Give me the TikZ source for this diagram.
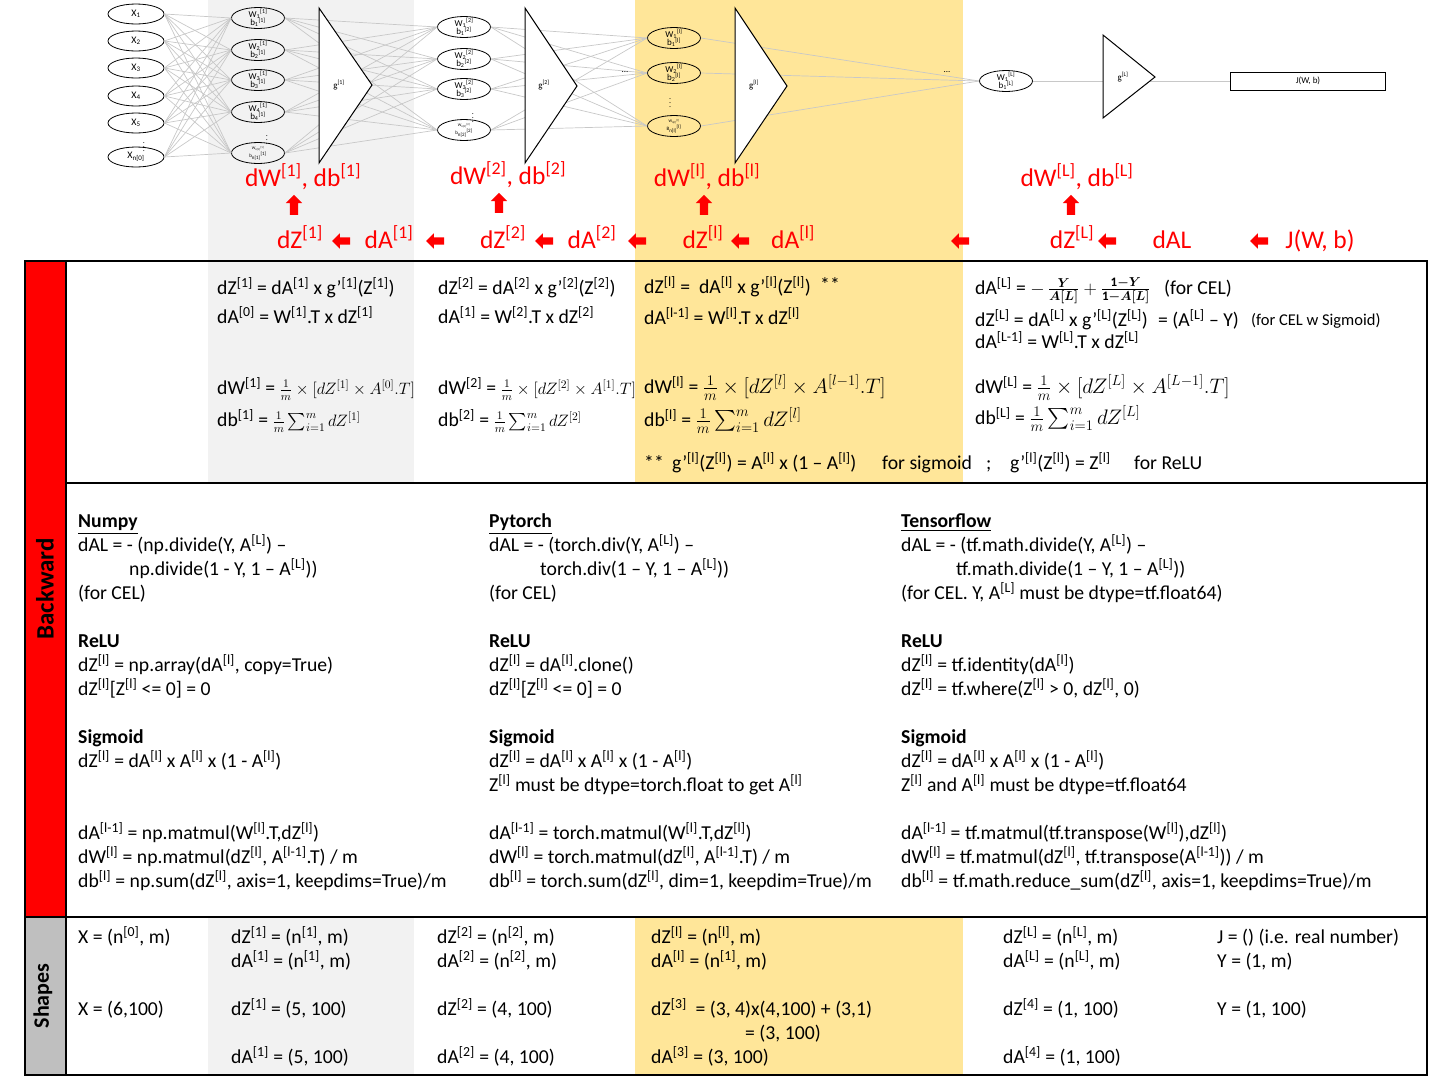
\RequirePackage{fix-cm}
\documentclass[tikz,border=0pt]{standalone}
\usepackage{amsmath}
\usepackage{fontspec}
\setmainfont{Carlito}
\usetikzlibrary{shapes.geometric,shapes.arrows}
\definecolor{bandgray}{HTML}{F2F2F2}
\definecolor{bandyel}{HTML}{FFE699}
\definecolor{shapegray}{HTML}{BFBFBF}
\definecolor{conngray}{HTML}{C8C8C8}
\newcommand\sq[1]{\textsuperscript{[#1]}}
\newcommand\wb[3]{W\textsubscript{#1}\textsuperscript{[#2]}\\[-1pt]#3\textsubscript{#1}\textsuperscript{[#2]}}
\newcommand\mthS{\fontsize{16.5}{18}\selectfont}
\newcommand\mthL{\fontsize{21}{24}\selectfont}
\newcommand\mthF{\fontsize{18.5}{22}\selectfont}
\begin{document}
\begin{tikzpicture}[x=1pt,y=-1pt,
  tx/.style={anchor=west, inner sep=0, text height=12.6pt, text depth=0pt, font=\fontsize{19.7}{24}\selectfont},
  txs/.style={tx, text height=10.6pt, font=\fontsize{16.5}{20}\selectfont},
  hd/.style={tx, font=\bfseries\fontsize{19.7}{24}\selectfont},
  redlbl/.style={inner sep=0, text=red, text height=16.4pt, text depth=0pt, font=\fontsize{25.5}{30}\selectfont},
  inell/.style={ellipse, draw, line width=0.8pt, minimum width=56pt, minimum height=20pt, inner sep=0},
  hidell/.style={ellipse, draw, line width=0.8pt, minimum width=53pt, minimum height=21pt, inner sep=0},
  inlbl/.style={inner sep=0, font=\fontsize{10}{11}\selectfont},
  hidlbl/.style={inner sep=0, align=center, font=\fontsize{9}{9.5}\selectfont},
  tinylbl/.style={inner sep=0, align=center, font=\fontsize{5}{6}\selectfont},
  dotlbl/.style={inner sep=0, font=\fontsize{8}{9}\selectfont},
  conn/.style={draw=conngray, line width=0.7pt},
  tri/.style={fill=white, draw=black, line width=1pt},
  glbl/.style={inner sep=0, font=\fontsize{9}{10}\selectfont},
  larr/.style={single arrow, fill=red, draw=none, inner xsep=0pt, inner ysep=3.5pt, minimum height=18pt, single arrow head extend=4pt, rotate=180},
  uarr/.style={single arrow, fill=red, draw=none, inner xsep=0pt, inner ysep=4pt, minimum height=20pt, single arrow head extend=4pt, rotate=90}
]
\useasboundingbox (0,0) rectangle (1431,1077);
% bands
\fill[bandgray] (208,0) rectangle (414,483);
\fill[bandyel] (635,0) rectangle (963,483);
\fill[bandgray] (208,917) rectangle (414,1075);
\fill[bandyel] (635,917) rectangle (963,1075);
\fill[red] (25,261) rectangle (66,917);
\fill[shapegray] (25,917) rectangle (66,1075);
\draw[line width=1.2pt] (25,261) rectangle (1427,1075);
\draw[line width=1.2pt] (66,261) -- (66,1075);
\draw[line width=1.2pt] (66,483) -- (1427,483);
\draw[line width=1.2pt] (25,917) -- (1427,917);
\node[rotate=90, inner sep=0, font=\bfseries\fontsize{25}{30}\selectfont] (bw) at (45,589) {Backward};
\node[rotate=90, inner sep=0, font=\bfseries\fontsize{22}{26}\selectfont] (sh) at (43,996) {Shapes};

% ---------- network ----------
\foreach \i/\y in {1/14,2/41,3/68,4/96,5/123,6/157}
  \node[inell] (x\i) at (136,\y) {};
\foreach \i/\y in {1/18,2/50,3/80,4/112,5/153}
  \node[hidell] (a\i) at (258,\y) {};
\foreach \i/\y in {1/27,2/59,3/89,4/130}
  \node[hidell] (b\i) at (464,\y) {};
\foreach \i/\y in {1/38,2/73,3/126}
  \node[hidell] (c\i) at (674,\y) {};
\node[hidell] (dL) at (1006,81) {};
\node[draw, line width=1pt, minimum width=155pt, minimum height=18pt, inner sep=0, font=\fontsize{9}{10}\selectfont] (J) at (1308,81) {J(W, b)};

\foreach \i in {1,...,6} \foreach \j in {1,...,5} \draw[conn] (x\i.east) -- (a\j.west);
\foreach \i in {1,...,5} \foreach \j in {1,...,4} \draw[conn] (a\i.east) -- (b\j.west);
\foreach \i in {1,...,4} \foreach \j in {1,...,3} \draw[conn] (b\i.east) -- (c\j.west);
\foreach \i in {1,...,3} \draw[conn] (c\i.east) -- (dL.west);
\draw[conn] (dL.east) -- (J.west);

\draw[tri] (319,8) -- (319,163) -- (372,85) -- cycle;
\draw[tri] (525,8) -- (525,163) -- (577,86) -- cycle;
\draw[tri] (735,8) -- (735,163) -- (787,86) -- cycle;
\draw[tri] (1103,35) -- (1103,118) -- (1155,77) -- cycle;
\node[glbl] (g1) at (339,85) {g\sq{1}};
\node[glbl] (g2) at (544,85) {g\sq{2}};
\node[glbl] (gl) at (754,85) {g\sq{l}};
\node[glbl] (gL) at (1123,77) {g\sq{L}};

\foreach \i in {1,...,5} \node[inlbl] (xl\i) at (x\i) {X\textsubscript{\i}};
\node[inlbl] (xl6) at (x6) {X\textsubscript{n[0]}};
\node[dotlbl] (xd) at (144,144) {$\vdots$};
\foreach \i in {1,...,4} \node[hidlbl] (al\i) at (a\i) {\wb{\i}{1}{b}};
\node[tinylbl] (al5) at (a5) {{\fontsize{4}{4}\selectfont W\textsubscript{n[1]}\textsuperscript{[1]}}\\b\textsubscript{n[1]}\textsuperscript{[1]}};
\node[dotlbl] (ad) at (267,137) {$\vdots$};
\foreach \i in {1,...,3} \node[hidlbl] (bl\i) at (b\i) {\wb{\i}{2}{b}};
\node[tinylbl] (bl4) at (b4) {{\fontsize{4}{4}\selectfont W\textsubscript{n[2]}\textsuperscript{[2]}}\\b\textsubscript{n[2]}\textsuperscript{[2]}};
\node[dotlbl] (bd) at (473,115) {$\vdots$};
\foreach \i in {1,2} \node[hidlbl] (cl\i) at (c\i) {\wb{\i}{l}{b}};
\node[tinylbl] (cl3) at (c3) {{\fontsize{4}{4}\selectfont W\textsubscript{n[l]}\textsuperscript{[l]}}\\B\textsubscript{n[l]}\textsuperscript{[l]}};
\node[dotlbl] (cd) at (670,100) {$\vdots$};
\node[hidlbl] (dLl) at (dL) {\wb{1}{L}{b}};
\node[glbl] (e1) at (625,72) {...};
\node[glbl] (e2) at (947,72) {...};

% ---------- red gradient flow ----------
\node[redlbl] (dw1) at (303,178) {dW\sq1, db\sq1};
\node[redlbl] (dw2) at (508,176) {dW\sq2, db\sq2};
\node[redlbl] (dwl) at (707,178) {dW\sq{l}, db\sq{l}};
\node[redlbl] (dwL) at (1077,178) {dW\sq{L}, db\sq{L}};
\node[uarr] (ua1) at (294,207) {};
\node[uarr] (ua2) at (499,205) {};
\node[uarr] (ua3) at (704,207) {};
\node[uarr] (ua4) at (1071,207) {};
\node[redlbl] (dz1) at (300,240) {dZ\sq1};
\node[redlbl] (da1) at (389,240) {dA\sq1};
\node[redlbl] (dz2) at (503,240) {dZ\sq2};
\node[redlbl] (da2) at (592,240) {dA\sq2};
\node[redlbl] (dzl) at (703,240) {dZ\sq{l}};
\node[redlbl] (dal) at (793,240) {dA\sq{l}};
\node[redlbl] (dzL) at (1072,240) {dZ\sq{L}};
\node[redlbl] (daL) at (1172,240) {dAL};
\node[redlbl] (jwb) at (1320,240) {J(W, b)};
\foreach \n/\x in {1/343,2/437,3/546,4/639,5/742,6/962,7/1109,8/1261}
  \node[larr] (la\n) at (\x,241) {};

% ---------- formulas ----------
\node[tx] (p11) at (217,288) {dZ\sq1 = dA\sq1 x g’\sq1(Z\sq1)};
\node[tx] (p12) at (217,317) {dA\sq0 = W\sq1.T x dZ\sq1};
\node[tx] (p13) at (217,388) {dW\sq1 = {\mthS$\frac{1}{m}\times[dZ^{[1]}\times A^{[0]}.T]$}};
\node[tx] (p14) at (217,420) {db\sq1 = {\mthS$\frac{1}{m}\sum_{i=1}^{m}dZ^{[1]}$}};
\node[tx] (p21) at (438,288) {dZ\sq2 = dA\sq2 x g’\sq2(Z\sq2)};
\node[tx] (p22) at (438,317) {dA\sq1 = W\sq2.T x dZ\sq2};
\node[tx] (p23) at (438,388) {dW\sq2 = {\mthS$\frac{1}{m}\times[dZ^{[2]}\times A^{[1]}.T]$}};
\node[tx] (p24) at (438,420) {db\sq2 = {\mthS$\frac{1}{m}\sum_{i=1}^{m}dZ^{[2]}$}};
\node[tx] (p31) at (644,287) {dZ\sq{l} =\ \ dA\sq{l} x g’\sq{l}(Z\sq{l})};
\node[tx] (p31s) at (820,285) {**};
\node[tx] (p32) at (644,318) {dA\sq{l-1} = W\sq{l}.T x dZ\sq{l}};
\node[tx] (p33) at (644,387) {dW\sq{l} = {\mthL$\frac{1}{m}\times[dZ^{[l]}\times A^{[l-1]}.T]$}};
\node[tx] (p34) at (644,420) {db\sq{l} = {\mthL$\frac{1}{m}\sum_{i=1}^{m}dZ^{[l]}$}};
\node[tx] (p35) at (644,463) {**};
\node[tx] (p36) at (672,463) {g’\sq{l}(Z\sq{l}) = A\sq{l} x (1 – A\sq{l})};
\node[tx] (p37) at (882,463) {for sigmoid};
\node[tx] (p38) at (986,463) {;};
\node[tx] (p39) at (1010,463) {g’\sq{l}(Z\sq{l}) = Z\sq{l}};
\node[tx] (p3a) at (1134,463) {for ReLU};
\node[tx] (p41) at (975,288) {dA\sq{L} = {\mthF$-\,\frac{\boldsymbol{Y}}{\boldsymbol{A[L]}}+\frac{\mathbf{1}\boldsymbol{-}\boldsymbol{Y}}{\mathbf{1}\boldsymbol{-}\boldsymbol{A[L]}}$}};
\node[tx] (p41c) at (1164,288) {(for CEL)};
\node[tx] (p42) at (975,320) {dZ\sq{L} = dA\sq{L} x g’\sq{L}(Z\sq{L})};
\node[tx] (p42b) at (1158,320) {= (A\sq{L} – Y)};
\node[txs] (p42c) at (1251,320) {(for CEL w Sigmoid)};
\node[tx] (p43) at (975,342) {dA\sq{L-1} = W\sq{L}.T x dZ\sq{L}};
\node[tx] (p44) at (975,387) {dW\sq{L} = {\mthL$\frac{1}{m}\times[dZ^{[L]}\times A^{[L-1]}.T]$}};
\node[tx] (p45) at (975,418) {db\sq{L} = {\mthL$\frac{1}{m}\sum_{i=1}^{m}dZ^{[L]}$}};

% ---------- code ----------
\node[hd] (n0) at (78,521) {\underline{Numpy}};
\node[tx] (n1) at (78,545) {dAL = - (np.divide(Y, A\sq{L}) –};
\node[tx] (n2) at (129,569) {np.divide(1 - Y, 1 – A\sq{L}))};
\node[tx] (n3) at (78,593) {(for CEL)};
\node[hd] (n4) at (78,641) {ReLU};
\node[tx] (n5) at (78,665) {dZ\sq{l} = np.array(dA\sq{l}, copy=True)};
\node[tx] (n6) at (78,689) {dZ\sq{l}[Z\sq{l} <= 0] = 0};
\node[hd] (n7) at (78,737) {Sigmoid};
\node[tx] (n8) at (78,761) {dZ\sq{l} = dA\sq{l} x A\sq{l} x (1 - A\sq{l})};
\node[tx] (n9) at (78,833) {dA\sq{l-1} = np.matmul(W\sq{l}.T,dZ\sq{l})};
\node[tx] (n10) at (78,857) {dW\sq{l} = np.matmul(dZ\sq{l}, A\sq{l-1}.T) / m};
\node[tx] (n11) at (78,881) {db\sq{l} = np.sum(dZ\sq{l}, axis=1, keepdims=True)/m};

\node[hd] (t0) at (489,521) {\underline{Pytorch}};
\node[tx] (t1) at (489,545) {dAL = - (torch.div(Y, A\sq{L}) –};
\node[tx] (t2) at (540,569) {torch.div(1 – Y, 1 – A\sq{L}))};
\node[tx] (t3) at (489,593) {(for CEL)};
\node[hd] (t4) at (489,641) {ReLU};
\node[tx] (t5) at (489,665) {dZ\sq{l} = dA\sq{l}.clone()};
\node[tx] (t6) at (489,689) {dZ\sq{l}[Z\sq{l} <= 0] = 0};
\node[hd] (t7) at (489,737) {Sigmoid};
\node[tx] (t8) at (489,761) {dZ\sq{l} = dA\sq{l} x A\sq{l} x (1 - A\sq{l})};
\node[tx] (t8b) at (489,785) {Z\sq{l} must be dtype=torch.float to get A\sq{l}};
\node[tx] (t9) at (489,833) {dA\sq{l-1} = torch.matmul(W\sq{l}.T,dZ\sq{l})};
\node[tx] (t10) at (489,857) {dW\sq{l} = torch.matmul(dZ\sq{l}, A\sq{l-1}.T) / m};
\node[tx] (t11) at (489,881) {db\sq{l} = torch.sum(dZ\sq{l}, dim=1, keepdim=True)/m};

\node[hd] (f0) at (901,521) {\underline{Tensorflow}};
\node[tx] (f1) at (901,545) {dAL = - (tf.math.divide(Y, A\sq{L}) –};
\node[tx] (f2) at (956,569) {tf.math.divide(1 – Y, 1 – A\sq{L}))};
\node[tx] (f3) at (901,593) {(for CEL. Y, A\sq{L} must be dtype=tf.float64)};
\node[hd] (f4) at (901,641) {ReLU};
\node[tx] (f5) at (901,665) {dZ\sq{l} = tf.identity(dA\sq{l})};
\node[tx] (f6) at (901,689) {dZ\sq{l} = tf.where(Z\sq{l} > 0, dZ\sq{l}, 0)};
\node[hd] (f7) at (901,737) {Sigmoid};
\node[tx] (f8) at (901,761) {dZ\sq{l} = dA\sq{l} x A\sq{l} x (1 - A\sq{l})};
\node[tx] (f8b) at (901,785) {Z\sq{l} and A\sq{l} must be dtype=tf.float64};
\node[tx] (f9) at (901,833) {dA\sq{l-1} = tf.matmul(tf.transpose(W\sq{l}),dZ\sq{l})};
\node[tx] (f10) at (901,857) {dW\sq{l} = tf.matmul(dZ\sq{l}, tf.transpose(A\sq{l-1})) / m};
\node[tx] (f11) at (901,881) {db\sq{l} = tf.math.reduce\_sum(dZ\sq{l}, axis=1, keepdims=True)/m};

% ---------- shapes ----------
\node[tx] (s01) at (78,937) {X = (n\sq0, m)};
\node[tx] (s02) at (78,1009) {X = (6,100)};
\node[tx] (s11) at (231,937) {dZ\sq1 = (n\sq1, m)};
\node[tx] (s12) at (231,961) {dA\sq1 = (n\sq1, m)};
\node[tx] (s13) at (231,1009) {dZ\sq1 = (5, 100)};
\node[tx] (s14) at (231,1057) {dA\sq1 = (5, 100)};
\node[tx] (s21) at (437,937) {dZ\sq2 = (n\sq2, m)};
\node[tx] (s22) at (437,961) {dA\sq2 = (n\sq2, m)};
\node[tx] (s23) at (437,1009) {dZ\sq2 = (4, 100)};
\node[tx] (s24) at (437,1057) {dA\sq2 = (4, 100)};
\node[tx] (s31) at (651,937) {dZ\sq{l} = (n\sq{l}, m)};
\node[tx] (s32) at (651,961) {dA\sq{l} = (n\sq1, m)};
\node[tx] (s33) at (651,1009) {dZ\sq3\ \ = (3, 4)x(4,100) + (3,1)};
\node[tx] (s34) at (745,1033) {= (3, 100)};
\node[tx] (s35) at (651,1057) {dA\sq3 = (3, 100)};
\node[tx] (s41) at (1003,937) {dZ\sq{L} = (n\sq{L}, m)};
\node[tx] (s42) at (1003,961) {dA\sq{L} = (n\sq{L}, m)};
\node[tx] (s43) at (1003,1009) {dZ\sq4 = (1, 100)};
\node[tx] (s44) at (1003,1057) {dA\sq4 = (1, 100)};
\node[tx] (s51) at (1217,937) {J = () (i.e. real number)};
\node[tx] (s52) at (1217,961) {Y = (1, m)};
\node[tx] (s53) at (1217,1009) {Y = (1, 100)};
\end{tikzpicture}
\end{document}
